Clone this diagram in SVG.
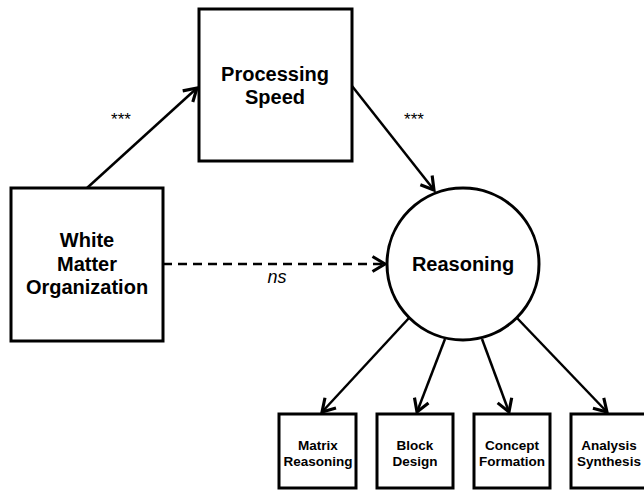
<svg xmlns="http://www.w3.org/2000/svg" width="644" height="490" viewBox="0 0 644 490">
<style>
.box{fill:#fff;stroke:#000;stroke-width:3}
.t{font-family:"Liberation Sans",Arial,sans-serif;font-weight:bold;text-anchor:middle;fill:#000}
.big{font-size:20px}
.small{font-size:13.5px}
.star{font-family:"Liberation Sans",Arial,sans-serif;font-size:17px;text-anchor:middle;fill:#000}
.c{fill:none;stroke:#000;stroke-width:2.5}
</style>
<defs>
<marker id="ah" markerUnits="userSpaceOnUse" markerWidth="20" markerHeight="20" viewBox="-12 -8 14 16" refX="0" refY="0" orient="auto">
<path d="M-10,-6 L0,0 L-10,6" fill="none" stroke="#000" stroke-width="2.5"/>
</marker>
</defs>
<g id="connectors">
<line class="c" x1="87" y1="188" x2="197" y2="88" marker-end="url(#ah)"/>
<line class="c" x1="352" y1="86" x2="434" y2="190" marker-end="url(#ah)"/>
<line class="c" x1="163" y1="264" x2="385" y2="264" stroke-dasharray="9,6" marker-end="url(#ah)"/>
<line class="c" x1="409" y1="318" x2="322" y2="412" marker-end="url(#ah)"/>
<line class="c" x1="445" y1="339" x2="417" y2="412" marker-end="url(#ah)"/>
<line class="c" x1="482" y1="339" x2="509" y2="412" marker-end="url(#ah)"/>
<line class="c" x1="517" y1="318" x2="607" y2="412" marker-end="url(#ah)"/>
<text class="star" x="121" y="125">***</text>
<text class="star" x="414" y="125">***</text>
<text x="277" y="283" font-family="Liberation Sans,Arial,sans-serif" font-style="italic" font-size="18" text-anchor="middle">ns</text>
</g>
<g id="white-matter">
<rect class="box" x="11" y="188" width="152" height="153"/>
<text class="t big" x="87" y="247">White</text>
<text class="t big" x="87" y="271">Matter</text>
<text class="t big" x="87" y="294">Organization</text>
</g>
<g id="processing-speed">
<rect class="box" x="199" y="9" width="153" height="152"/>
<text class="t big" x="275" y="81">Processing</text>
<text class="t big" x="275" y="104">Speed</text>
</g>
<g id="reasoning">
<circle class="box" cx="463" cy="264" r="76"/>
<text class="t big" x="463" y="271">Reasoning</text>
</g>
<g id="matrix-reasoning">
<rect class="box" x="279" y="414" width="77" height="74"/>
<text class="t small" x="318" y="450">Matrix</text>
<text class="t small" x="318" y="466">Reasoning</text>
</g>
<g id="block-design">
<rect class="box" x="377" y="414" width="76" height="74"/>
<text class="t small" x="415" y="450">Block</text>
<text class="t small" x="415" y="466">Design</text>
</g>
<g id="concept-formation">
<rect class="box" x="474" y="414" width="76" height="74"/>
<text class="t small" x="512" y="450">Concept</text>
<text class="t small" x="512" y="466">Formation</text>
</g>
<g id="analysis-synthesis">
<rect class="box" x="571" y="414" width="78" height="74"/>
<text class="t small" x="609" y="450">Analysis</text>
<text class="t small" x="609" y="466">Synthesis</text>
</g>
</svg>
